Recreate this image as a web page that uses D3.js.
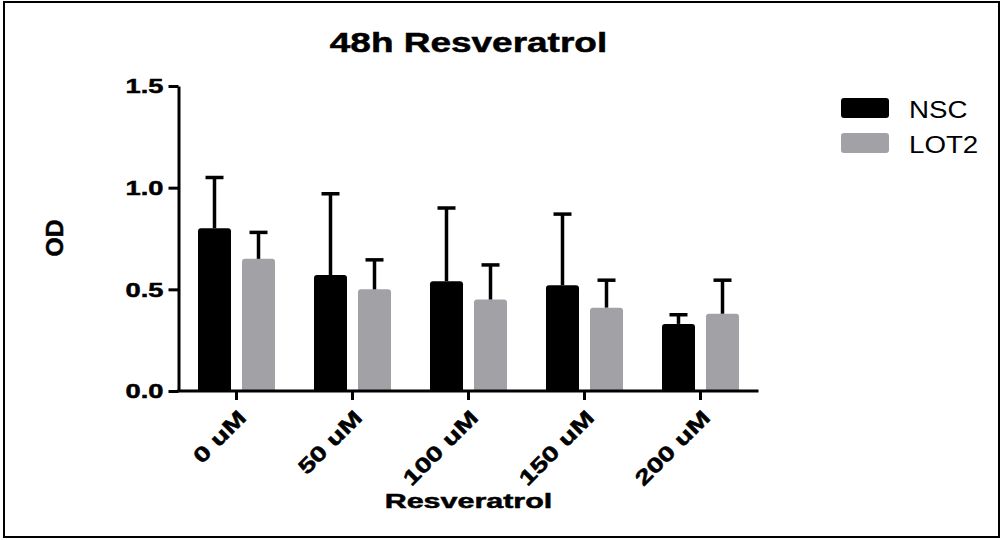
<!DOCTYPE html>
<html>
<head>
<meta charset="utf-8">
<script src="https://cdn.jsdelivr.net/npm/d3@7"></script>
<style>
  html, body { margin: 0; padding: 0; background: #fff; }
  svg { display: block; }
  text { font-family: "Liberation Sans", Arial, Helvetica, sans-serif; fill: #000; }
</style>
</head>
<body>
<svg id="chart" width="1003" height="540"></svg>
<script>
// Resveratrol concentrations (48 h treatment)
const categories = ["0 uM", "50 uM", "100 uM", "150 uM", "200 uM"];
const seriesNames = ["NSC", "LOT2"];
// Optical density, mean and standard deviation per concentration
const nscMean  = [0.80, 0.57, 0.54, 0.52, 0.33];
const nscSD    = [0.25, 0.40, 0.36, 0.35, 0.045];
const lot2Mean = [0.65, 0.50, 0.45, 0.41, 0.38];
const lot2SD   = [0.13, 0.145, 0.17, 0.135, 0.165];
const yTicks   = [0.0, 0.5, 1.0, 1.5];

const colors = { NSC: "#000000", LOT2: "#a2a2a6" };

const rows = categories.map((c, i) => ({
  cat: c,
  values: [
    { key: "NSC",  mean: nscMean[i],  sd: nscSD[i] },
    { key: "LOT2", mean: lot2Mean[i], sd: lot2SD[i] }
  ]
}));

const svg = d3.select("#chart");

// widen a text element along its baseline
function stretch(sel, factor) {
  sel.each(function () {
    const len = this.getComputedTextLength();
    d3.select(this).attr("textLength", len * factor).attr("lengthAdjust", "spacingAndGlyphs");
  });
}

// heavier bold for the black labels
function heavy(sel) {
  sel.attr("stroke", "#000").attr("stroke-width", 0.5).attr("paint-order", "stroke");
}

// outer frame
svg.append("rect")
  .attr("x", 4).attr("y", 2).attr("width", 995).attr("height", 535)
  .attr("fill", "none").attr("stroke", "#000").attr("stroke-width", 2);

const plot = { left: 178.5, right: 758.5, top: 86, bottom: 391 };

const x = d3.scaleBand().domain(categories).range([plot.left, plot.right]).padding(0);
const xSub = d3.scaleBand().domain(seriesNames).range([0, x.bandwidth()])
  .paddingInner(0.25).paddingOuter(0.443);
const y = d3.scaleLinear().domain([0, 1.5]).range([plot.bottom, plot.top]);

// bars
const groups = svg.append("g").selectAll("g").data(rows).join("g")
  .attr("transform", d => `translate(${x(d.cat)},0)`);

groups.selectAll("path.bar").data(d => d.values).join("path")
  .attr("class", "bar")
  .attr("fill", d => colors[d.key])
  .attr("d", d => {
    const x0 = xSub(d.key), w = xSub.bandwidth();
    const yTop = y(d.mean), yBot = y(0), r = 3;
    return `M${x0},${yBot} V${yTop + r} Q${x0},${yTop} ${x0 + r},${yTop} H${x0 + w - r} Q${x0 + w},${yTop} ${x0 + w},${yTop + r} V${yBot} Z`;
  });

// upward error bars (mean + SD)
const capHalf = 9;
const err = groups.selectAll("g.err").data(d => d.values).join("g").attr("class", "err");
err.append("line")
  .attr("x1", d => xSub(d.key) + xSub.bandwidth() / 2)
  .attr("x2", d => xSub(d.key) + xSub.bandwidth() / 2)
  .attr("y1", d => y(d.mean))
  .attr("y2", d => y(d.mean + d.sd))
  .attr("stroke", "#000").attr("stroke-width", 3.5);
err.append("line")
  .attr("x1", d => xSub(d.key) + xSub.bandwidth() / 2 - capHalf)
  .attr("x2", d => xSub(d.key) + xSub.bandwidth() / 2 + capHalf)
  .attr("y1", d => y(d.mean + d.sd))
  .attr("y2", d => y(d.mean + d.sd))
  .attr("stroke", "#000").attr("stroke-width", 3.5);

// y axis
const yAxis = svg.append("g")
  .attr("transform", `translate(${plot.left},0)`)
  .call(d3.axisLeft(y).tickValues(yTicks).tickFormat(d3.format(".1f")).tickSize(10).tickSizeOuter(0).tickPadding(5));
yAxis.select(".domain").attr("stroke", "#000").attr("stroke-width", 3);
yAxis.selectAll(".tick line").attr("stroke", "#000").attr("stroke-width", 3);
yAxis.selectAll(".tick text")
  .attr("font-size", 21).attr("font-weight", "bold")
  .attr("font-family", "Liberation Sans, Arial, sans-serif")
  .attr("fill", "#000")
  .call(heavy)
  .call(stretch, 1.3);

// x axis
const xAxis = svg.append("g")
  .attr("transform", `translate(0,${plot.bottom})`)
  .call(d3.axisBottom(x).tickSize(9).tickSizeOuter(0));
xAxis.select(".domain").attr("stroke", "#000").attr("stroke-width", 3)
  .attr("d", `M${plot.left - 1.5},0H${plot.right}`);
xAxis.selectAll(".tick line").attr("stroke", "#000").attr("stroke-width", 3);
xAxis.selectAll(".tick text")
  .attr("font-size", 21).attr("font-weight", "bold")
  .attr("font-family", "Liberation Sans, Arial, sans-serif")
  .attr("fill", "#000")
  .attr("text-anchor", "end")
  .attr("dy", 0)
  .attr("y", 0)
  .attr("transform", "translate(11,28) rotate(-45)")
  .call(heavy)
  .call(stretch, 1.35);

// titles
svg.append("text")
  .attr("x", (plot.left + plot.right) / 2).attr("y", 52)
  .attr("text-anchor", "middle").attr("font-size", 28).attr("font-weight", "bold")
  .text("48h Resveratrol")
  .call(heavy)
  .call(stretch, 1.32);

svg.append("text")
  .attr("x", (plot.left + plot.right) / 2).attr("y", 508)
  .attr("text-anchor", "middle").attr("font-size", 21).attr("font-weight", "bold")
  .text("Resveratrol")
  .call(heavy)
  .call(stretch, 1.45);

svg.append("text")
  .attr("transform", "translate(63,238) rotate(-90)")
  .attr("text-anchor", "middle").attr("font-size", 23).attr("font-weight", "bold")
  .text("OD")
  .call(heavy)
  .call(stretch, 1.07);

// legend
const legend = svg.append("g").selectAll("g").data(seriesNames).join("g")
  .attr("transform", (d, i) => `translate(841,${98 + i * 35})`);
legend.append("rect")
  .attr("width", 48).attr("height", 20).attr("rx", 3)
  .attr("fill", d => colors[d]);
legend.append("text")
  .attr("x", 68).attr("y", 19.5)
  .attr("font-size", 24.5)
  .text(d => d)
  .call(stretch, 1.13);
</script>
</body>
</html>
